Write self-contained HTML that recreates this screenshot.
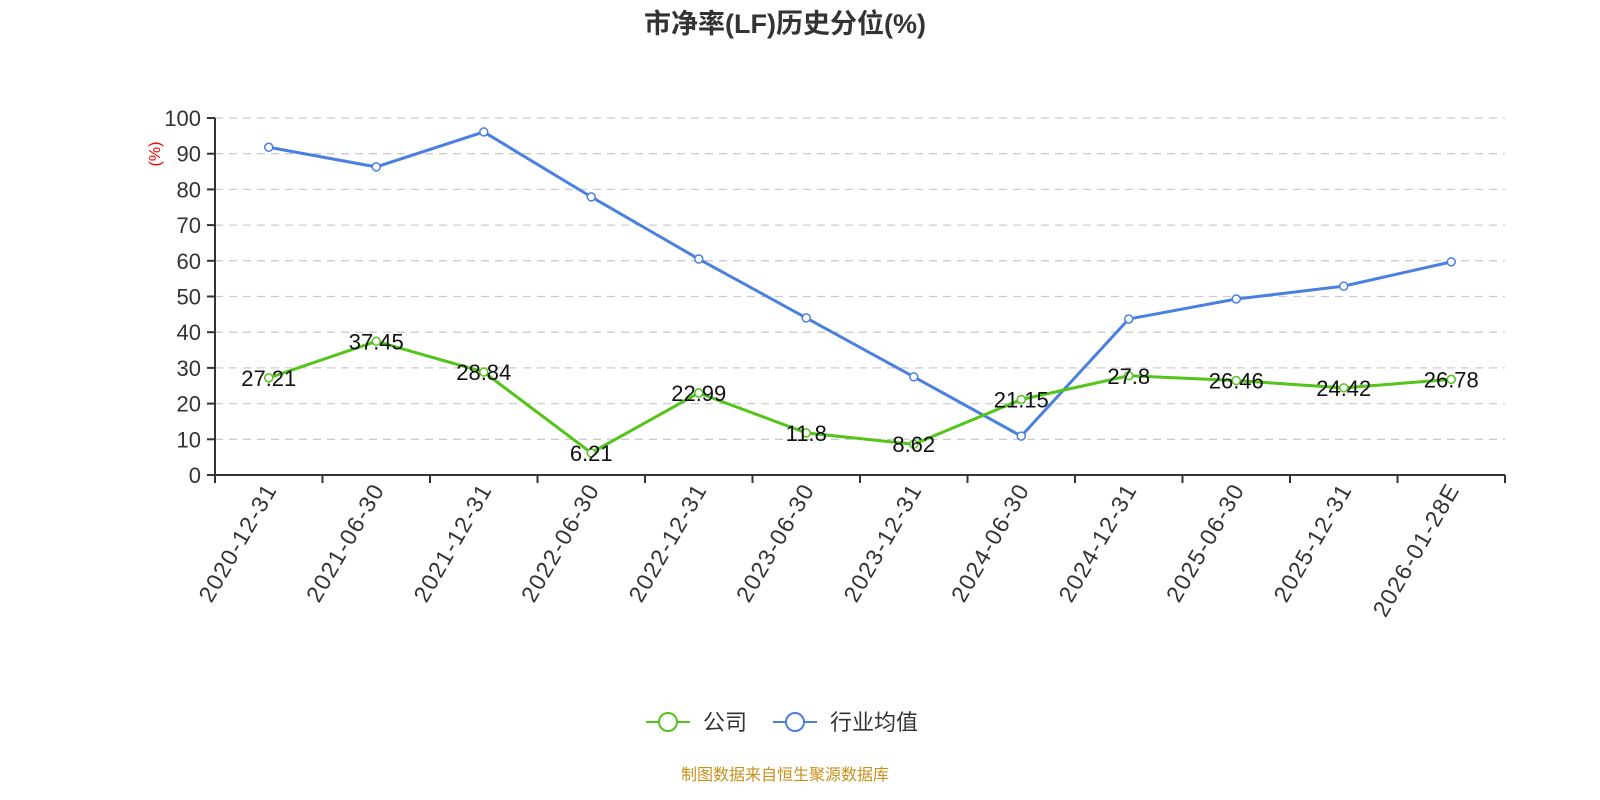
<!DOCTYPE html>
<html><head><meta charset="utf-8"><style>body{margin:0;background:#fff}svg{display:block}</style></head><body>
<svg width="1600" height="800" xmlns="http://www.w3.org/2000/svg" font-family="'Liberation Sans','Noto Sans CJK SC',sans-serif">
<text x="785" y="33" text-anchor="middle" font-size="27" font-weight="bold" fill="#333">市净率(LF)历史分位(%)</text>
<g id="grid" stroke="#ccc" stroke-dasharray="8,6" stroke-width="1.3"></g>
<g id="axes"></g>
<text transform="translate(160,154) rotate(-90)" text-anchor="middle" font-size="16" fill="red">(%)</text>
<g id="series"></g>
<g>
<line x1="646" y1="722" x2="690" y2="722" stroke="#52c41a" stroke-width="2"/><circle cx="668" cy="722" r="9" fill="#fff" stroke="#52c41a" stroke-width="2"/>
<text x="703" y="730" font-size="22" fill="#333">公司</text>
<line x1="773" y1="722" x2="817" y2="722" stroke="#4a80e0" stroke-width="2"/><circle cx="795" cy="722" r="9" fill="#fff" stroke="#4a80e0" stroke-width="2"/>
<text x="830" y="730" font-size="22" fill="#333">行业均值</text>
</g>
<text x="785" y="780" text-anchor="middle" font-size="16" fill="#c8901a">制图数据来自恒生聚源数据库</text>
</svg>
<script>
const ns="http://www.w3.org/2000/svg";
function el(p,t,a,txt){const e=document.createElementNS(ns,t);for(const k in a)e.setAttribute(k,a[k]);if(txt!=null)e.textContent=txt;document.querySelector(p).appendChild(e);return e;}
const y0=475,sc=3.57,xl=215,xr=1505,bw=(xr-xl)/12;
const Y=v=>y0-v*sc,X=i=>xl+bw*(i+0.5);
for(let v=10;v<=100;v+=10)el('#grid','line',{x1:xl,x2:xr,y1:Y(v),y2:Y(v)});
el('#axes','line',{x1:xl,x2:xl,y1:Y(100),y2:y0,stroke:'#333','stroke-width':2});
el('#axes','line',{x1:xl-1,x2:xr,y1:y0,y2:y0,stroke:'#333','stroke-width':2});
for(let v=0;v<=100;v+=10){el('#axes','line',{x1:xl-8,x2:xl,y1:Y(v),y2:Y(v),stroke:'#333','stroke-width':2});
el('#axes','text',{x:xl-14,y:Y(v)+8,'text-anchor':'end','font-size':22,fill:'#333'},v);}
const cats=["2020-12-31","2021-06-30","2021-12-31","2022-06-30","2022-12-31","2023-06-30","2023-12-31","2024-06-30","2024-12-31","2025-06-30","2025-12-31","2026-01-28E"];
for(let i=0;i<=12;i++)el('#axes','line',{x1:xl+bw*i,x2:xl+bw*i,y1:y0,y2:y0+8,stroke:'#333','stroke-width':2});
cats.forEach((c,i)=>el('#axes','text',{transform:`translate(${X(i)+9},${y0+14}) rotate(-60)`,'text-anchor':'end','font-size':23,'letter-spacing':1.5,fill:'#333'},c));
const g=[27.21,37.45,28.84,6.21,22.99,11.8,8.62,21.15,27.8,26.46,24.42,26.78];
const b=[91.8,86.3,96.1,77.9,60.5,44,27.5,10.9,43.7,49.3,52.9,59.7];
[[b,'#4a80e0'],[g,'#52c41a']].forEach(([d,c])=>{
el('#series','polyline',{points:d.map((v,i)=>X(i)+','+Y(v)).join(' '),fill:'none',stroke:c,'stroke-width':3});
d.forEach((v,i)=>el('#series','circle',{cx:X(i),cy:Y(v),r:4,fill:'#fff',stroke:c,'stroke-width':1.5}));});
g.forEach((v,i)=>el('#series','text',{x:X(i),y:Y(v)+8,'text-anchor':'middle','font-size':22,fill:'#111'},v));
</script>
</body></html>
